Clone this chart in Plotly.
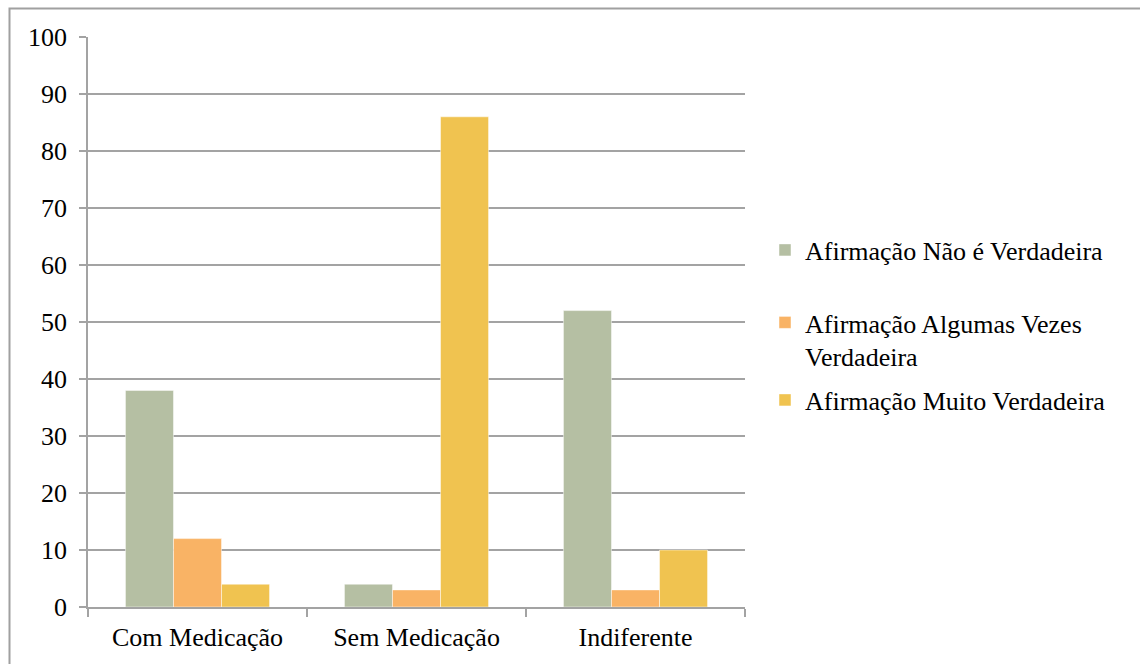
import plotly.graph_objects as go

# Categories and the share (%) for each answer type
categories = ["Com Medicação", "Sem Medicação", "Indiferente"]
series_names = [
    "Afirmação Não é Verdadeira",
    "Afirmação Algumas Vezes<br>Verdadeira",
    "Afirmação Muito Verdadeira",
]
nao_verdadeira = [38, 4, 52]
algumas_vezes = [12, 3, 3]
muito_verdadeira = [4, 86, 10]
y_ticks = list(range(0, 101, 10))

colors = ["#B5BFA3", "#F9B365", "#F0C350"]
series_values = [nao_verdadeira, algumas_vezes, muito_verdadeira]
legend_ids = ["legend", "legend2", "legend3"]

W, H = 1140, 664
L, R, T, B = 88, 395, 37, 57
pw, ph = W - L - R, H - T - B


def px_x(px):
    return (px - L) / pw


def px_y(py):
    return (H - B - py) / ph


font_family = "'Times New Roman', 'Liberation Serif', 'DejaVu Serif', serif"
grid_col = "#A3A3A3"
text_font = dict(family=font_family, size=26, color="#000000")

fig = go.Figure()
for name, vals, col, lg in zip(series_names, series_values, colors, legend_ids):
    fig.add_trace(go.Bar(
        x=categories, y=vals, name=name, showlegend=True,
        marker=dict(color=col, line=dict(color="rgba(255,255,255,0.6)", width=0.8)),
        legend=lg,
    ))


def legend_at(py, anchor="middle"):
    return dict(
        font=text_font, bgcolor="rgba(0,0,0,0)", borderwidth=0,
        x=px_x(765), y=px_y(py), xanchor="left", yanchor=anchor,
        valign="top", itemclick=False, itemdoubleclick=False,
    )


fig.update_layout(
    width=W, height=H,
    margin=dict(l=L, r=R, t=T, b=B, pad=0),
    paper_bgcolor="#FFFFFF", plot_bgcolor="#FFFFFF",
    barmode="group", bargap=0.342, bargroupgap=0,
    font=text_font, showlegend=True,
    legend=legend_at(250),
    legend2=legend_at(299, "top"),
    legend3=legend_at(400),
    xaxis=dict(
        type="category", showline=True, linecolor=grid_col, linewidth=1.5,
        ticks="outside", tickson="boundaries", ticklen=8, tickwidth=1.5,
        tickcolor=grid_col, showgrid=False, ticklabelstandoff=6,
        tickfont=text_font,
    ),
    yaxis=dict(
        range=[0, 100], tickvals=y_ticks, showline=True, linecolor=grid_col,
        linewidth=1.5, ticks="outside", ticklen=7, tickwidth=1.5,
        tickcolor=grid_col, showgrid=True, gridcolor=grid_col, gridwidth=1.5,
        zeroline=False, ticklabelstandoff=7,
        tickfont=text_font,
    ),
    shapes=[dict(
        type="rect", xref="paper", yref="paper",
        x0=px_x(9.5), x1=px_x(1160), y0=px_y(690), y1=px_y(8.5),
        line=dict(color="#A0A0A0", width=2), fillcolor="rgba(0,0,0,0)",
        layer="below",
    )],
)

fig.write_html("out.html")
